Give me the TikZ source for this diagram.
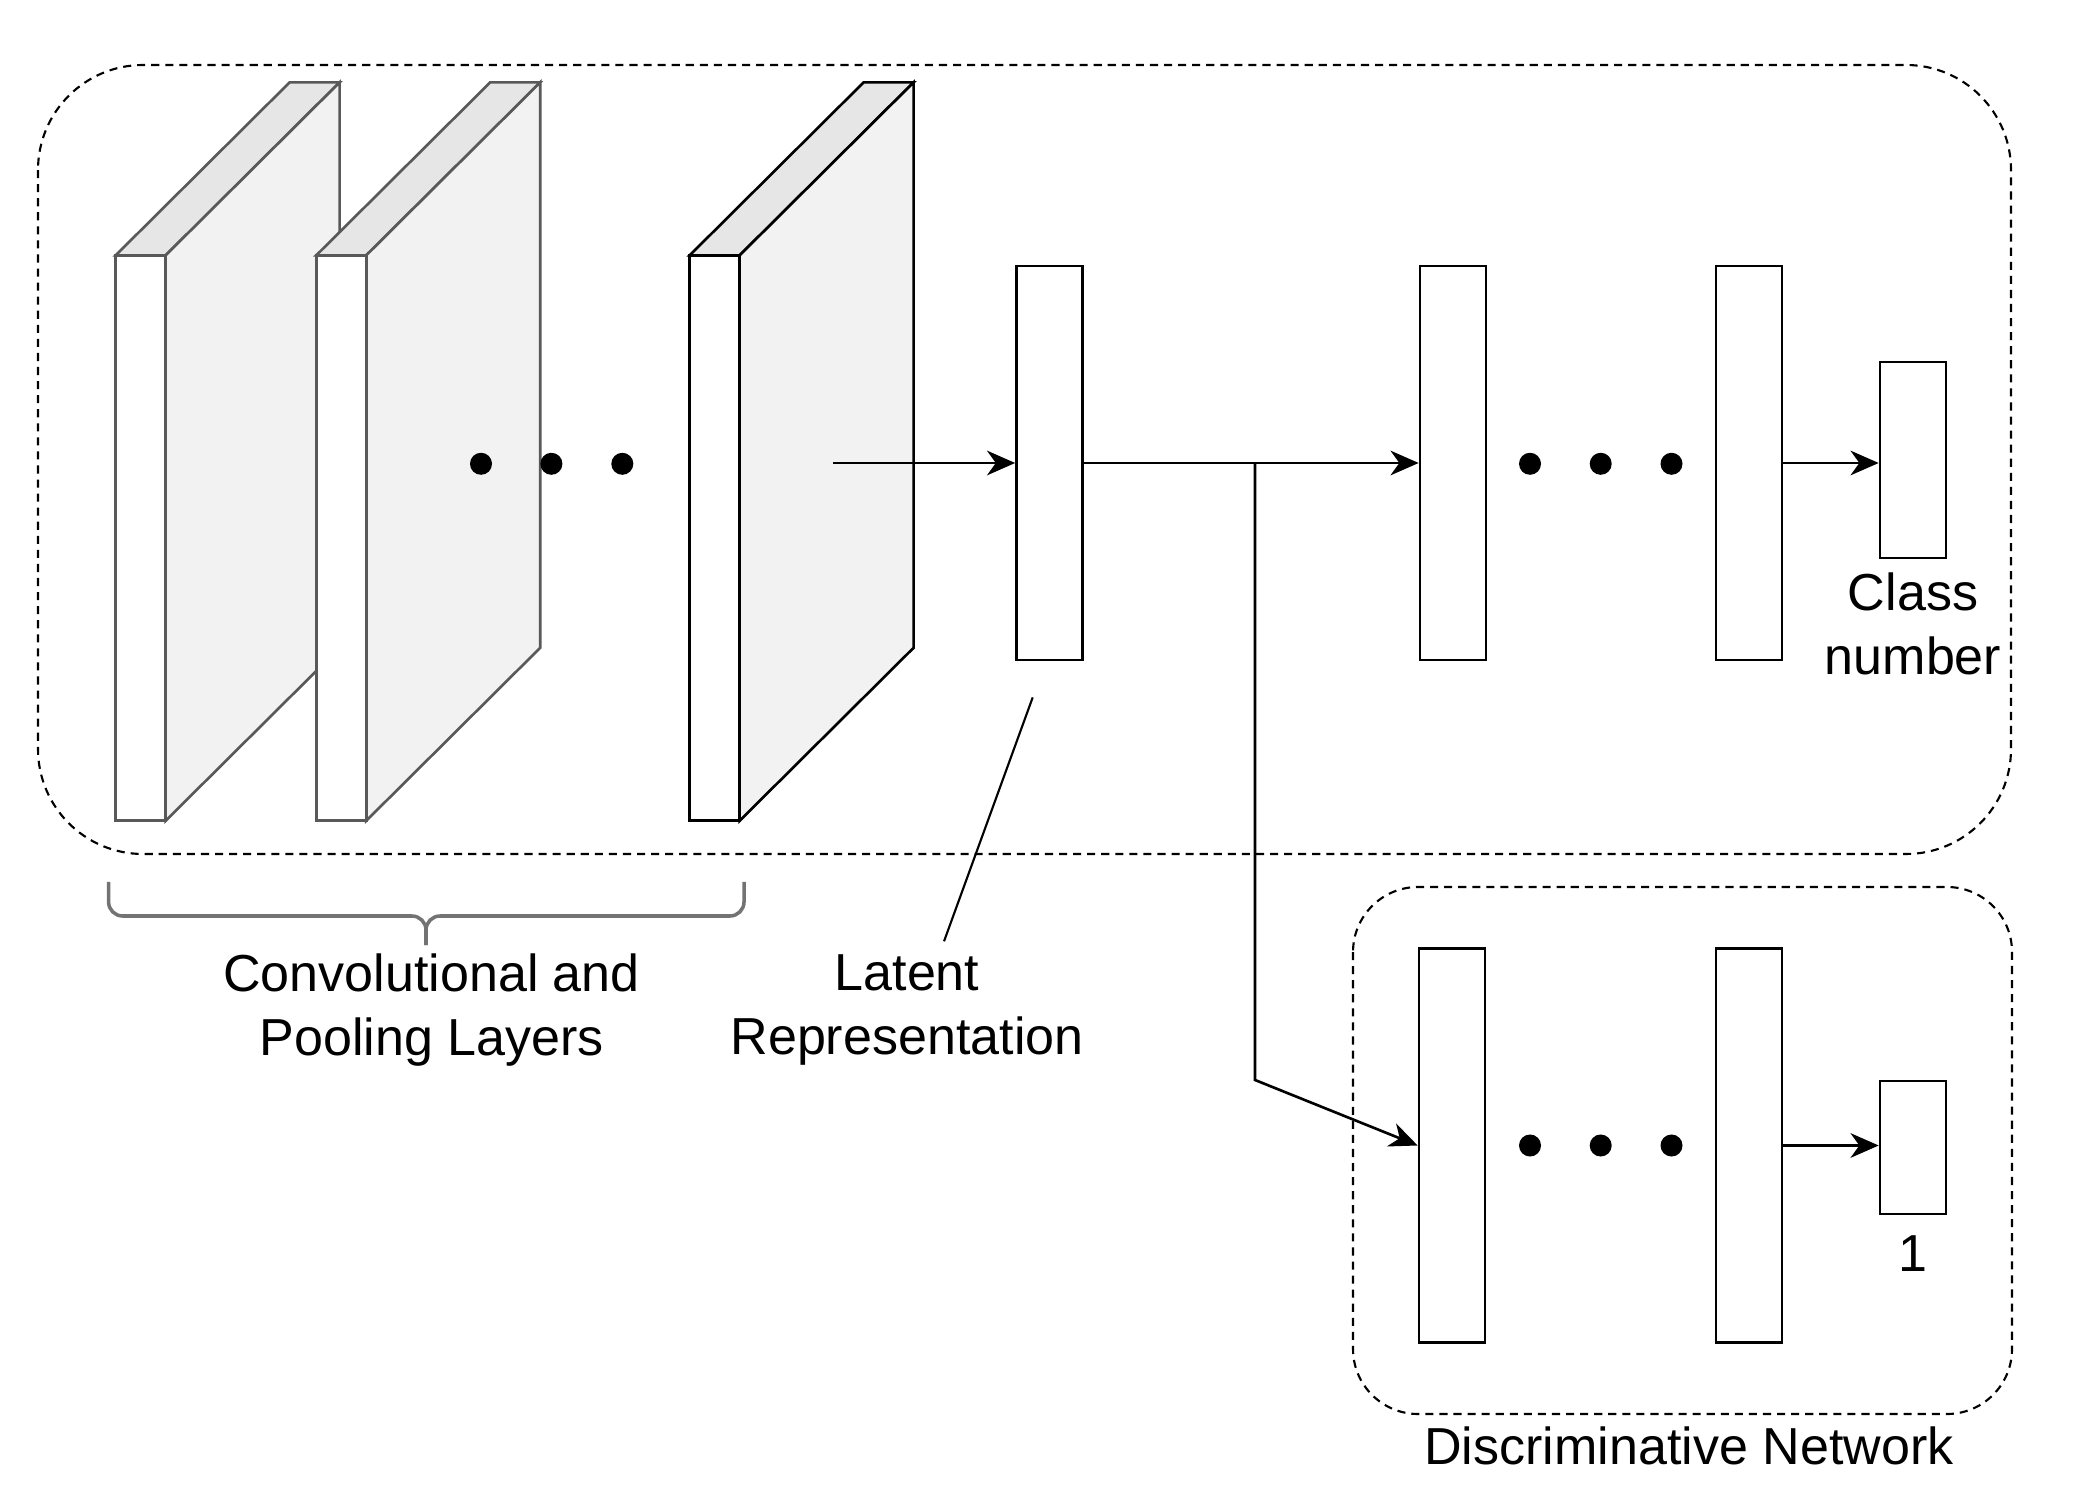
\documentclass[tikz,border=0pt]{standalone}
\usepackage{fontspec}
\setmainfont{Liberation Sans}
\usetikzlibrary{positioning,arrows.meta}
\definecolor{topgray}{HTML}{E6E6E6}
\definecolor{sidegray}{HTML}{F2F2F2}
\begin{document}
\begin{tikzpicture}[x=0.01cm, y=-0.01cm, line width=0.75pt,
		font=\fontsize{14.8}{18.4}\selectfont,
		layer/.style = {draw, fill=white, minimum width=0.5cm, minimum height=5.65cm, inner sep=0pt},
		unit/.style = {draw, fill=white, minimum width=0.66cm, minimum height=3.94cm, inner sep=0pt},
		frame/.style = {draw, line width=0.6pt, dash pattern=on 2.3pt off 1.7pt},
		arr/.style = {-{Stealth[length=8pt, width=7pt, inset=2.5pt]}}]
		\useasboundingbox (0,0) rectangle (2076,1498);
		\draw[frame, rounded corners=1.05cm] (38,65) rectangle (2011,854);
		\draw[frame, rounded corners=0.65cm] (1353,887) rectangle (2012,1414);
		\foreach \n/\xx/\col in {1/140.6/black!65, 2/341.2/black!65, 3/714.6/black} {
			\filldraw[draw=\col, fill=topgray] (\xx-25,255.4) -- ++(174,-173) -- ++(50,0) -- (\xx+25,255.4) -- cycle;
			\filldraw[draw=\col, fill=sidegray] (\xx+25,255.4) -- ++(174,-173) -- ++(0,565.4) -- (\xx+25,820.8) -- cycle;
			\node[layer, draw=\col] (l\n) at (\xx,538) {};
		}
		\foreach \xx in {481,551.4,622.3} \fill (\xx,463.8) circle (0.11cm);
		\node[unit] (lat) at (1049.5,463) {};
		\node[unit] (f1) at (1453,463) {};
		\node[unit] (f2) at (1749,463) {};
		\node[unit, minimum height=1.96cm] (cls) at (1913,460) {};
		\node[unit] (d1) at (1452,1145.5) {};
		\node[unit] (d2) at (1749,1145.5) {};
		\node[unit, minimum height=1.33cm] (out) at (1913,1147.5) {};
		\foreach \xx in {1530,1600.7,1671.5} {
			\fill (\xx,463.8) circle (0.11cm);
			\fill (\xx,1145.5) circle (0.11cm);
		}
		\coordinate (a0) at (832.8,463);
		\coordinate (j) at (1255,463);
		\coordinate (lp) at (1032.7,697.4);
		\draw[arr] (a0) -- (lat.west);
		\draw[arr] (lat.east) -- (f1.west);
		\draw[arr] (f2.east) -- (f2.east -| cls.west);
		\draw[arr] (j) -- (1255,1080) -- (d1.west);
		\draw[arr] (d2.east) -- (d2.east -| out.west);
		\node[align=center] (convlab) at (431.6,1010) {Convolutional and\\Pooling Layers};
		\node[align=center] (latlab) at (907,1010) {Latent\\Representation};
		\node[align=center, below=0cm of cls] (clslab) {Class\\number};
		\node (onelab) at (1913,1254) {1};
		\node (disclab) at (1689,1446) {Discriminative Network};
		\coordinate (bl) at (108.6,882);
		\coordinate (br) at (744,882);
		\coordinate (bt) at (426,945);
		\draw[black!55, line width=1pt, rounded corners=0.14cm] (bl) |- (426,916) -- (bt);
		\draw[black!55, line width=1pt, rounded corners=0.14cm] (br) |- (426,916) -- (bt);
		\draw[line width=0.6pt] (lp) -- ([xshift=0.37cm]latlab.north);
	\end{tikzpicture}
\end{document}
